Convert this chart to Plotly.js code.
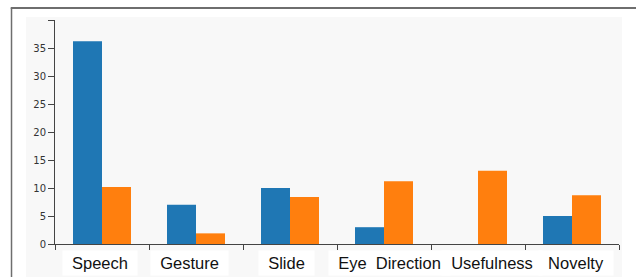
<!DOCTYPE html>
<html>
<head>
<meta charset="utf-8">
<script src="https://cdn.plot.ly/plotly-3.0.1.min.js"></script>
<style>html,body{margin:0;padding:0;background:#fff;}#chart{width:636px;height:277px;}</style>
</head>
<body>
<div id="chart"></div>
<script>
const categories = ['Speech', 'Gesture', 'Slide', 'Eye  Direction', 'Usefulness', 'Novelty'];
const seriesA = [36.2, 7.0, 10.0, 3.0, 0, 5.0];
const seriesB = [10.2, 1.9, 8.4, 11.2, 13.1, 8.7];
const yTickVals = [0, 5, 10, 15, 20, 25, 30, 35, 40];
const yTickText = ['0', '5', '10', '15', '20', '25', '30', '35', ''];

// label horizontal offsets (px) to mimic the original layout
const labelShift = [-2, -6.5, -4, 5, 13.5, 3.5];

const traces = [
  {type: 'bar', x: categories, y: seriesA, marker: {color: '#1f77b4'}, hoverinfo: 'none'},
  {type: 'bar', x: categories, y: seriesB, marker: {color: '#ff7f0e'}, hoverinfo: 'none'}
];

const labelFont = {family: 'Liberation Sans', size: 16.5, color: '#111'};
function measure(t) {
  const s = document.createElement('span');
  s.style.cssText = 'position:absolute;visibility:hidden;white-space:pre;font-family:"Liberation Sans";font-size:' + labelFont.size + 'px;';
  s.textContent = t;
  document.body.appendChild(s);
  const w = s.getBoundingClientRect().width;
  document.body.removeChild(s);
  return w;
}

const annotations = categories.map((c, i) => {
  const txt = c.replace(/ /g, '\u00a0');
  const w = Math.ceil(measure(txt)) + 12;
  return {
    x: c, xref: 'x', y: -0.083, yref: 'paper', yanchor: 'middle', xanchor: 'center',
    xshift: labelShift[i],
    text: txt, width: w, align: 'center',
    showarrow: false, bgcolor: '#ffffff', borderpad: 3,
    font: labelFont
  };
});

const layout = {
  width: 636, height: 277,
  margin: {l: 55, r: 17, t: 20, b: 33, pad: 0},
  paper_bgcolor: '#ffffff', plot_bgcolor: '#f8f8f8',
  showlegend: false, barmode: 'group', bargap: 0.383, bargroupgap: 0,
  xaxis: {type: 'category', range: [-0.5, 5.5], tickson: 'boundaries', ticks: 'outside', ticklen: 5,
    tickcolor: '#444', showticklabels: false, showline: true, linecolor: '#444', linewidth: 1,
    showgrid: false, zeroline: false, fixedrange: true},
  yaxis: {range: [0, 40], tickmode: 'array', tickvals: yTickVals, ticktext: yTickText,
    ticks: 'outside', ticklen: 6, tickcolor: '#444', showline: true, linecolor: '#444', linewidth: 1,
    showgrid: false, zeroline: false, fixedrange: true,
    tickfont: {family: 'DejaVu Sans, sans-serif', size: 10, color: '#333'}},
  shapes: [
    {type: 'rect', xref: 'paper', yref: 'paper', x0: -0.0514, x1: 1.0053, y0: -0.2, y1: 1.0134,
      fillcolor: '#f8f8f8', line: {width: 0}, layer: 'below'},
    {type: 'line', xref: 'paper', yref: 'paper', x0: -0.0771, x1: -0.0771, y0: -0.2, y1: 1.0536,
      line: {color: '#6e6e6e', width: 1.5}},
    {type: 'line', xref: 'paper', yref: 'paper', x0: -0.0785, x1: 1.06, y0: 1.0536, y1: 1.0536,
      line: {color: '#6e6e6e', width: 1.8}}
  ],
  annotations: annotations
};

Plotly.newPlot('chart', traces, layout, {displayModeBar: false, staticPlot: true});
</script>
</body>
</html>
